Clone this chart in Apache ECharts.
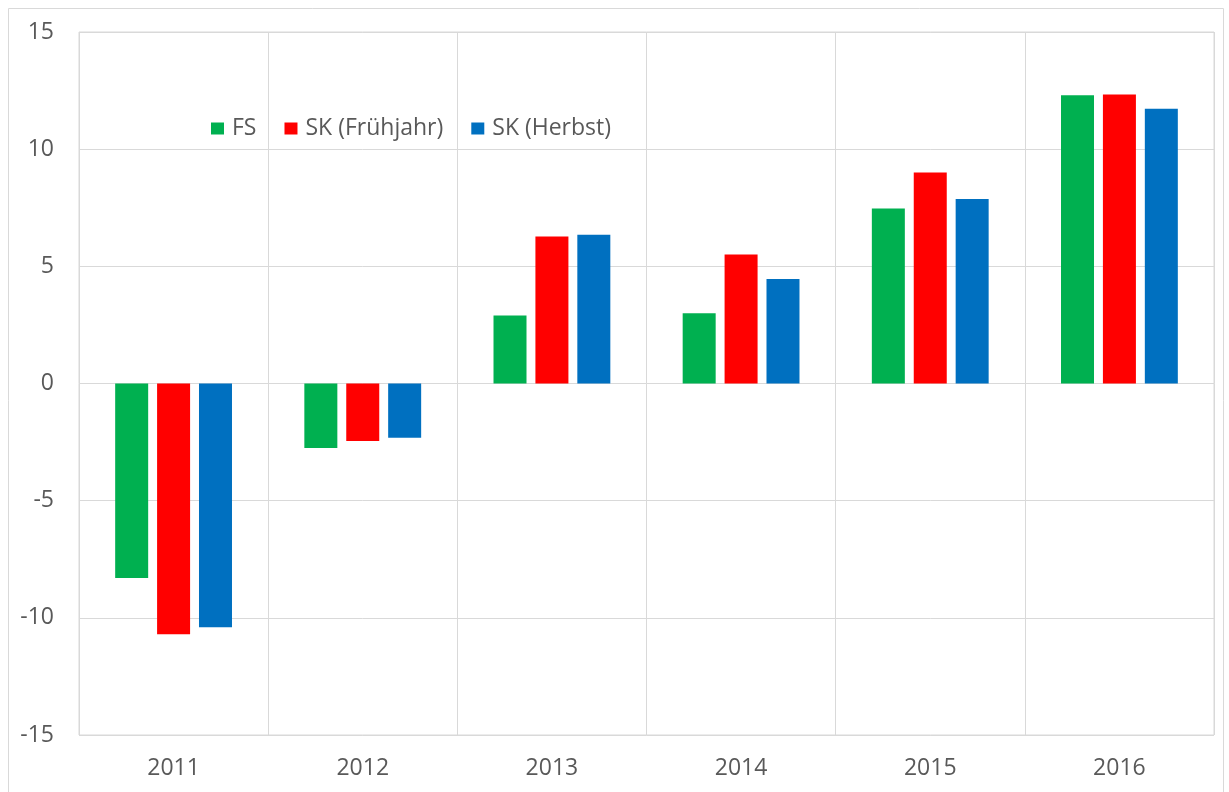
<!DOCTYPE html>
<html>
<head>
<meta charset="utf-8">
<script src="https://cdn.jsdelivr.net/npm/echarts@6/dist/echarts.min.js"></script>
<style>
  html, body { margin: 0; padding: 0; background: #fff; }
  #main { width: 1229px; height: 792px; }
</style>
</head>
<body>
<div id="main"></div>
<script>
// Daten
var years = ['2011', '2012', '2013', '2014', '2015', '2016'];
var fs = [-8.3, -2.75, 2.9, 3.0, 7.47, 12.3];
var skFruehjahr = [-10.7, -2.45, 6.27, 5.5, 9.0, 12.33];
var skHerbst = [-10.4, -2.32, 6.35, 4.46, 7.87, 11.72];
var seriesNames = ['FS', 'SK (Frühjahr)', 'SK (Herbst)'];
var colors = ['#00B050', '#FF0000', '#0070C0'];

var myChart = echarts.init(document.getElementById('main'));

var gridColor = '#d9d9d9';
var textColor = '#595959';
var fontFamily = 'Open Sans';

var option = {
    animation: false,
    color: colors,
    // äußerer Rahmen
    graphic: [{
        type: 'rect',
        shape: { x: 8.5, y: 8.5, width: 1215, height: 800 },
        style: { fill: 'none', stroke: '#d9d9d9', lineWidth: 1 },
        z: -1
    }],
    legend: {
        data: seriesNames,
        left: 206,
        top: 112,
        itemWidth: 13,
        itemHeight: 12,
        itemGap: 28,
        icon: 'rect',
        textStyle: { fontSize: 23, color: textColor, fontFamily: fontFamily, padding: [0, 0, 0, 3] }
    },
    grid: {
        left: 79,
        right: 15,
        top: 32,
        bottom: 57,
        show: true,
        borderColor: gridColor,
        borderWidth: 1
    },
    xAxis: {
        type: 'category',
        data: years,
        axisLine: { show: false },
        axisTick: { show: false },
        splitLine: { show: true, lineStyle: { color: gridColor, width: 1 } },
        axisLabel: { fontSize: 23, color: textColor, fontFamily: fontFamily, margin: 22 }
    },
    yAxis: {
        type: 'value',
        min: -15,
        max: 15,
        interval: 5,
        axisLine: { show: false },
        axisTick: { show: false },
        splitLine: { lineStyle: { color: gridColor, width: 1 } },
        axisLabel: { fontSize: 23, color: textColor, fontFamily: fontFamily, margin: 25 }
    },
    series: [
        { name: seriesNames[0], type: 'bar', data: fs, barWidth: 33, barGap: '27%' },
        { name: seriesNames[1], type: 'bar', data: skFruehjahr, barWidth: 33, barGap: '27%' },
        { name: seriesNames[2], type: 'bar', data: skHerbst, barWidth: 33, barGap: '27%' }
    ]
};

myChart.setOption(option);
</script>
</body>
</html>
